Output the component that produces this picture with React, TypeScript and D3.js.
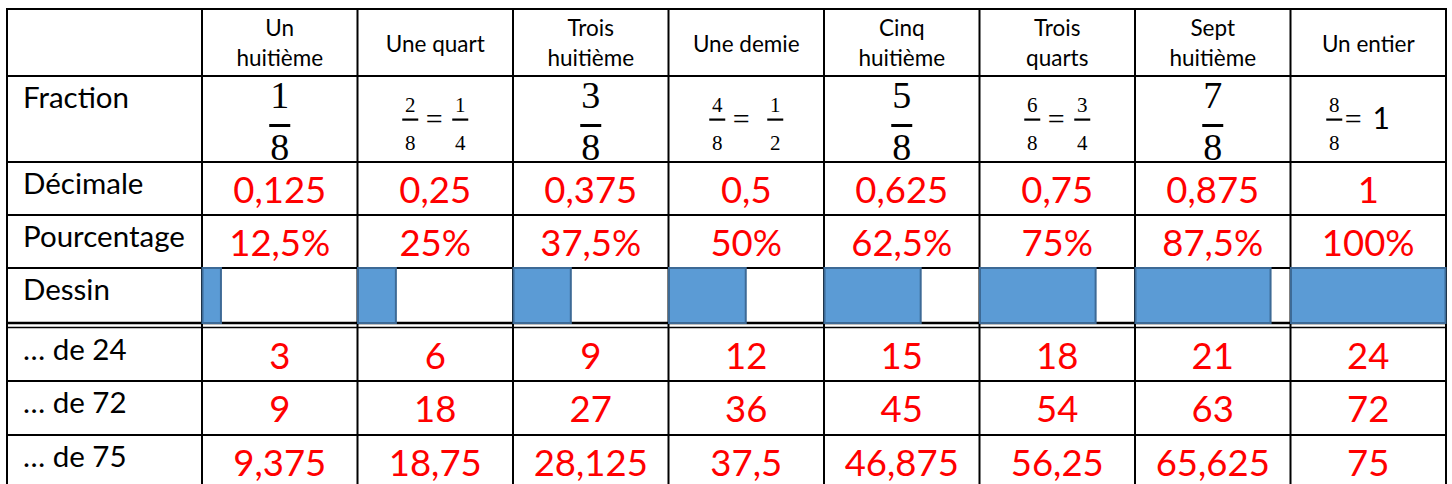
import React from 'react';
import * as d3 from 'd3';

// column headers (one or two lines)
const headers = [
  ['Un', 'huitième'],
  ['Une quart'],
  ['Trois', 'huitième'],
  ['Une demie'],
  ['Cinq', 'huitième'],
  ['Trois', 'quarts'],
  ['Sept', 'huitième'],
  ['Un entier'],
];
const rowLabels = ['Fraction', 'Décimale', 'Pourcentage', 'Dessin', '… de 24', '… de 72', '… de 75'];

const numerators = [1, 2, 3, 4, 5, 6, 7, 8];
const denominator = 8;
// simplified form, '' when the eighth is already shown alone
const simplified = ['', '1/4', '', '1/2', '', '3/4', '', '1'];

const decimals = ['0,125', '0,25', '0,375', '0,5', '0,625', '0,75', '0,875', '1'];
const percents = ['12,5%', '25%', '37,5%', '50%', '62,5%', '75%', '87,5%', '100%'];
const of24 = ['3', '6', '9', '12', '15', '18', '21', '24'];
const of72 = ['9', '18', '27', '36', '45', '54', '63', '72'];
const of75 = ['9,375', '18,75', '28,125', '37,5', '46,875', '56,25', '65,625', '75'];

const W = 1452;
const H = 484;
const sans = 'Lato, "Open Sans", sans-serif';
const serif = '"Liberation Serif", "DejaVu Serif", serif';
const red = '#ff0000';

const App = () => {
  const keys = headers.map((h) => h.join(' '));
  const x = d3.scaleBand<string>().domain(keys).range([202, 1446]);
  const bw = x.bandwidth();
  const fill = d3.scaleLinear().domain([0, 1]).range([0, bw]);
  const left = 7;
  const top = 9;
  // row edges: header, fraction, decimal, percent, drawing, then 3 rows below double line
  const edges = [top, 76, 162, 215, 268, 381, 435];
  const rowTop = [76, 162, 215, 268, 327.5, 381, 435];
  const cx = (i: number) => (x(keys[i]) as number) + bw / 2;

  const valueRows = [
    { row: 1, vals: decimals },
    { row: 2, vals: percents },
    { row: 4, vals: of24 },
    { row: 5, vals: of72 },
    { row: 6, vals: of75 },
  ];

  const smallFrac = (fx: number, num: string, den: string, key: string) => (
    <g key={key}>
      <text x={fx} y={112} textAnchor="middle" fontFamily={serif} fontSize={21}>{num}</text>
      <rect x={fx - 8} y={118.5} width={16} height={2.2} fill="#000" />
      <text x={fx} y={150} textAnchor="middle" fontFamily={serif} fontSize={21}>{den}</text>
    </g>
  );
  const eq = (ex: number) => (
    <text x={ex} y={129} textAnchor="middle" fontFamily={serif} fontSize={30}>=</text>
  );

  return (
    <svg width={W} height={H} style={{ position: 'absolute', left: 0, top: 0, background: '#fff' }}>
      <rect width={W} height={H} fill="#fff" />

      {/* headers */}
      {headers.map((h, i) =>
        h.length === 1 ? (
          <text key={i} x={cx(i)} y={52} textAnchor="middle" fontFamily={sans} fontSize={22.5}>{h[0]}</text>
        ) : (
          <g key={i}>
            <text x={cx(i)} y={36} textAnchor="middle" fontFamily={sans} fontSize={22.5}>{h[0]}</text>
            <text x={cx(i)} y={66} textAnchor="middle" fontFamily={sans} fontSize={22.5}>{h[1]}</text>
          </g>
        )
      )}

      {/* row labels */}
      {rowLabels.map((l, r) => (
        <text key={l} x={23} y={rowTop[r] + 32} fontFamily={sans} fontSize={29.5}>{l}</text>
      ))}

      {/* fractions */}
      {numerators.map((n, i) => {
        const c = cx(i);
        const s = simplified[i];
        if (!s) {
          return (
            <g key={i}>
              <text x={c} y={108} textAnchor="middle" fontFamily={serif} fontSize={38}>{n}</text>
              <rect x={c - 10.5} y={124} width={21} height={3} fill="#000" />
              <text x={c} y={160} textAnchor="middle" fontFamily={serif} fontSize={38}>{denominator}</text>
            </g>
          );
        }
        if (!s.includes('/')) {
          return (
            <g key={i}>
              {smallFrac(c - 34, String(n), String(denominator), 'a')}
              {eq(c - 15)}
              <text x={c + 13} y={129} textAnchor="middle" fontFamily={sans} fontSize={30}>{s}</text>
            </g>
          );
        }
        const [sn, sd] = s.split('/');
        const wide = n === 4;
        return (
          <g key={i}>
            {smallFrac(c - (wide ? 29 : 25), String(n), String(denominator), 'a')}
            {eq(c - (wide ? 5 : 1))}
            {smallFrac(c + (wide ? 29 : 25), sn, sd, 'b')}
          </g>
        );
      })}

      {/* red values */}
      {valueRows.map(({ row, vals }) =>
        vals.map((v, i) => (
          <text key={row + '-' + i} x={cx(i)} y={rowTop[row] + 41} textAnchor="middle" fontFamily={sans} fontSize={36.5} fill={red}>{v}</text>
        ))
      )}

      {/* grid */}
      <g stroke="#000">
        {edges.map((e) => (
          <line key={'h' + e} x1={left} x2={1446} y1={e} y2={e} strokeWidth={2} />
        ))}
        <line x1={left} x2={1446} y1={323} y2={323} strokeWidth={2.5} />
        <line x1={left} x2={1446} y1={327.5} y2={327.5} strokeWidth={1.5} />
        {[left, ...keys.map((k) => x(k) as number), 1446].map((vx) => (
          <line key={'v' + vx} x1={vx} x2={vx} y1={top - 1} y2={H + 5} strokeWidth={2} />
        ))}
      </g>

      {/* drawings */}
      {numerators.map((n, i) => (
        <rect key={'d' + i} x={(x(keys[i]) as number) + 0.5} y={268} width={fill(n / denominator) - 1} height={55}
          fill="#5b9bd5" stroke="#3d6a96" strokeWidth={2} />
      ))}
    </svg>
  );
};

export default App;
